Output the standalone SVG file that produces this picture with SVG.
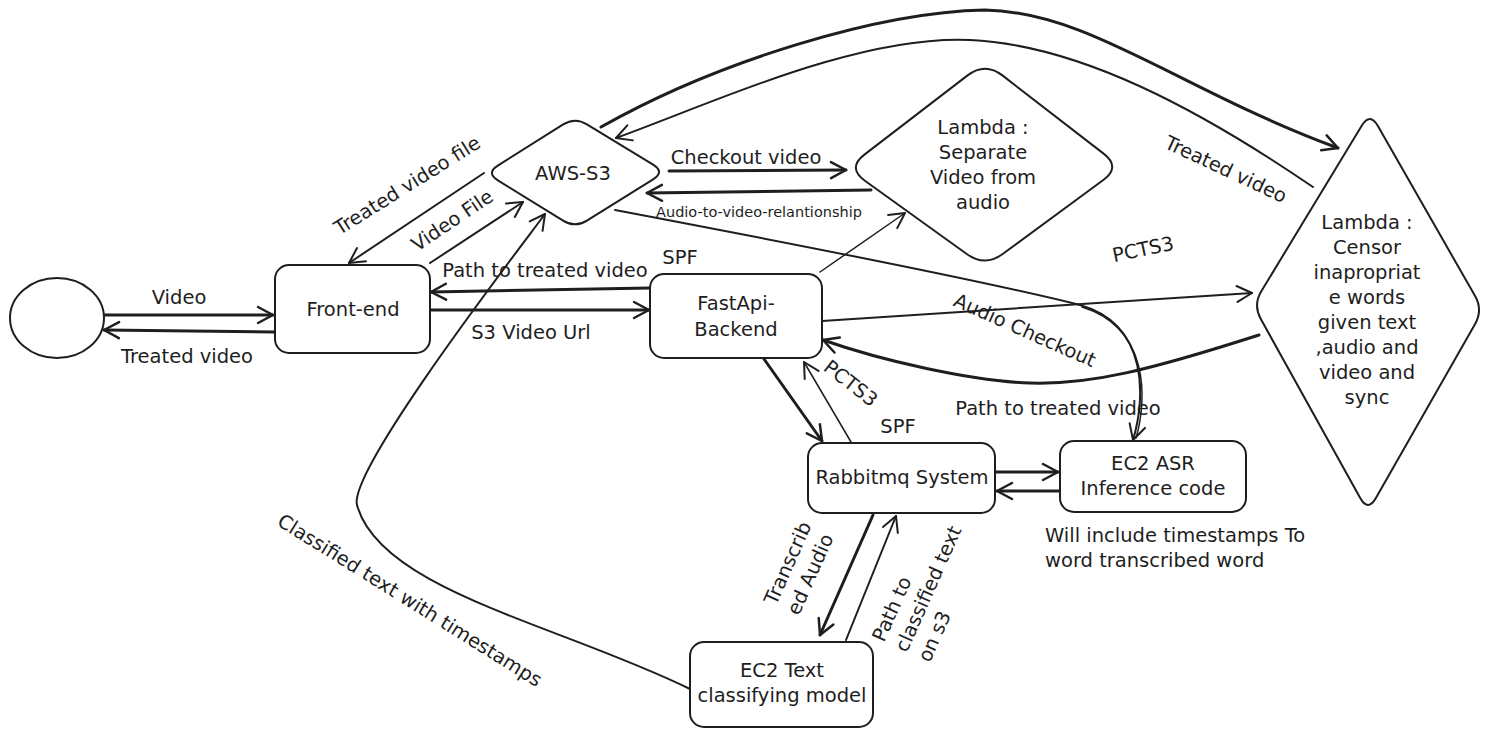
<svg xmlns="http://www.w3.org/2000/svg" width="1500" height="736" viewBox="0 0 1500 736">
<style>
.s{fill:none;stroke:#1e1e1e;stroke-width:2;stroke-linecap:round;stroke-linejoin:round}
.k{fill:none;stroke:#1e1e1e;stroke-width:3;stroke-linecap:round;stroke-linejoin:round}
.t{fill:none;stroke:#1e1e1e;stroke-width:1.5;stroke-linecap:round;stroke-linejoin:round}
.nd{fill:#ffffff;stroke:#1e1e1e;stroke-width:2;stroke-linejoin:round}
text{font-family:"DejaVu Sans","Liberation Sans",sans-serif;font-size:19.5px;fill:#1e1e1e;text-anchor:middle}
.sm{font-size:14.5px}
.l{text-anchor:start}
</style>
<defs>
<marker id="a2" viewBox="0 0 20 20" refX="18" refY="10" markerWidth="20" markerHeight="20" markerUnits="userSpaceOnUse" orient="auto">
<path d="M3,2 L18,10 L3,18" fill="none" stroke="#1e1e1e" stroke-width="2" stroke-linecap="round" stroke-linejoin="round"/>
</marker>
<marker id="a3" viewBox="0 0 20 20" refX="18" refY="10" markerWidth="20" markerHeight="20" markerUnits="userSpaceOnUse" orient="auto">
<path d="M3,2 L18,10 L3,18" fill="none" stroke="#1e1e1e" stroke-width="2.5" stroke-linecap="round" stroke-linejoin="round"/>
</marker>
</defs>
<rect width="1500" height="736" fill="#ffffff"/>

<g id="connectors">
<path class="k" d="M104,315 L273,315" marker-end="url(#a3)"/>
<path class="k" d="M274,332 L104,330" marker-end="url(#a3)"/>
<path class="k" d="M650,288 L431,292" marker-end="url(#a3)"/>
<path class="k" d="M431,310 L649,310" marker-end="url(#a3)"/>
<path class="s" d="M484,173 L349,263" marker-end="url(#a2)"/>
<path class="s" d="M430,263 L523,202" marker-end="url(#a2)"/>
<path class="s" d="M690,689 C560,625 380,590 357,505 C348,470 520,248 545,214" marker-end="url(#a2)"/>
<path class="k" d="M601,127 C720,60 880,12 985,10 C1090,12 1180,90 1338,148" marker-end="url(#a3)"/>
<path class="s" d="M1313,187 C1200,110 1080,45 970,40 C860,35 720,100 616,138" marker-end="url(#a2)"/>
<path class="k" d="M669,171 L846,170" marker-end="url(#a3)"/>
<path class="k" d="M871,190 L647,193" marker-end="url(#a3)"/>
<path class="s" d="M615,210 C800,245 1000,285 1080,305 C1150,325 1145,400 1133,440" marker-end="url(#a2)"/>
<path class="t" d="M1082,307 C1150,328 1147,400 1136,438"/>
<path class="t" d="M820,272 L905,213" marker-end="url(#a2)"/>
<path class="s" d="M822,321 L1252,293" marker-end="url(#a2)"/>
<path class="k" d="M1259,335 C1150,370 1090,385 1030,383 C970,381 880,360 823,340" marker-end="url(#a3)"/>
<path class="k" d="M764,359 L822,441" marker-end="url(#a3)"/>
<path class="t" d="M851,442 L804,362" marker-end="url(#a2)"/>
<path class="k" d="M996,472 L1058,472" marker-end="url(#a3)"/>
<path class="k" d="M1059,491 L997,491" marker-end="url(#a3)"/>
<path class="k" d="M873,515 L820,635" marker-end="url(#a3)"/>
<path class="s" d="M846,640 L896,516" marker-end="url(#a2)"/>

<text x="179" y="304">Video</text>
<text x="187" y="363">Treated video</text>
<text x="545" y="277">Path to treated video</text>
<text x="680" y="264">SPF</text>
<text x="531" y="339">S3 Video Url</text>
<text x="407" y="192" transform="rotate(-32 407 185)">Treated video file</text>
<text x="452" y="227" transform="rotate(-34 452 220)">Video File</text>
<text x="746" y="164">Checkout video</text>
<text class="sm" x="759" y="217">Audio-to-video-relantionship</text>
<text x="1226" y="176" transform="rotate(25 1226 169)">Treated video</text>
<text x="1143" y="256" transform="rotate(-12 1143 249)">PCTS3</text>
<text x="1025" y="337" transform="rotate(24 1025 330)">Audio Checkout</text>
<text x="851" y="390" transform="rotate(38 851 383)">PCTS3</text>
<text x="898" y="433">SPF</text>
<text x="1058" y="415">Path to treated video</text>
<text class="l" x="1045" y="542">Will include timestamps To</text>
<text class="l" x="1045" y="567">word transcribed word</text>
<g transform="translate(776,606) rotate(-66)">
<text class="l" x="0" y="0">Transcrib</text>
<text class="l" x="0" y="25">ed Audio</text>
</g>
<g transform="translate(884,643) rotate(-66)">
<text class="l" x="0" y="0">Path to</text>
<text class="l" x="0" y="25">classified text</text>
<text class="l" x="0" y="50">on s3</text>
</g>
<text x="410" y="607" transform="rotate(32 410 600)">Classified text with timestamps</text>
</g>

<g id="start">
<ellipse class="nd" cx="57" cy="318" rx="47" ry="40"/>
</g>
<g id="frontend">
<rect class="nd" x="275" y="265" width="155" height="88" rx="14"/>
<text x="353" y="316">Front-end</text>
</g>
<g id="fastapi">
<rect class="nd" x="650" y="274" width="172" height="84" rx="14"/>
<text x="736" y="310">FastApi-</text>
<text x="736" y="336">Backend</text>
</g>
<g id="awss3">
<path class="nd" d="M563.2,124.4 Q575,117 586.9,124.3 L653.1,164.7 Q665,172 653.1,179.4 L586.9,220.6 Q575,228 563.1,220.6 L497.9,180.4 Q486,173 497.8,165.6 Z"/>
<text x="573" y="180">AWS-S3</text>
</g>
<g id="lambda-separate">
<path class="nd" d="M967.6,75.4 Q985,62 1002.4,75.4 L1103.6,153.6 Q1121,167 1103.3,180 L1002.7,254 Q985,267 967.1,254.2 L864.9,180.8 Q847,168 864.4,154.6 Z"/>
<text x="983" y="134">Lambda :</text>
<text x="983" y="159">Separate</text>
<text x="983" y="184">Video from</text>
<text x="983" y="209">audio</text>
</g>
<g id="lambda-censor">
<path class="nd" d="M1361.7,125.7 Q1370,112 1377.9,125.9 L1475.1,296.1 Q1483,310 1475.1,323.9 L1375.9,498.1 Q1368,512 1360.2,498 L1260.8,319 Q1253,305 1261.3,291.3 Z"/>
<text x="1367" y="229">Lambda :</text>
<text x="1367" y="254">Censor</text>
<text x="1367" y="279">inapropriat</text>
<text x="1367" y="304">e words</text>
<text x="1367" y="329">given text</text>
<text x="1367" y="354">,audio and</text>
<text x="1367" y="379">video and</text>
<text x="1367" y="404">sync</text>
</g>
<g id="rabbitmq">
<rect class="nd" x="808" y="443" width="187" height="70" rx="14"/>
<text x="902" y="484">Rabbitmq System</text>
</g>
<g id="ec2-asr">
<rect class="nd" x="1060" y="441" width="186" height="71" rx="14"/>
<text x="1153" y="470">EC2 ASR</text>
<text x="1153" y="495">Inference code</text>
</g>
<g id="ec2-text">
<rect class="nd" x="690" y="642" width="183" height="85" rx="14"/>
<text x="782" y="677">EC2 Text</text>
<text x="782" y="702">classifying model</text>
</g>
</svg>
